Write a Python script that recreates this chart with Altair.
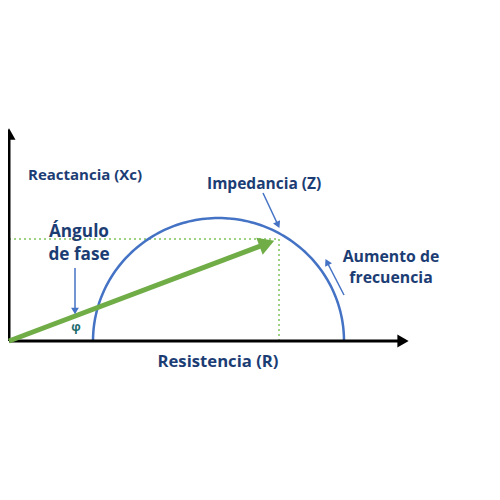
import altair as alt
import pandas as pd
import numpy as np

# ---- data (R = resistance axis, X = reactance axis) ----
axis_x = [0, 393]          # R-axis line
axis_y = [0, 206]          # X-axis line
axis_tips_R = [394, 0]
axis_tips_X = [0, 207]

arc_center_R = 209.5
arc_radius_R = 125.5
arc_radius_X = 123.0

z_R = 270                  # impedance vector tip
z_X = 102

angle_arrow_R = [66, 66]
angle_arrow_X = [73, 30]
imp_arrow_R = [254, 269]
imp_arrow_X = [148, 116]
freq_arrow_R = [335, 318]
freq_arrow_X = [46, 79]

labels = ["Reactancia (Xc)", "Impedancia (Z)", "Ángulo", "de fase",
          "Aumento de", "frecuencia", "Resistencia (R)"]
label_R = [19, 198, 70, 70, 382, 382, 209]
label_X = [166, 157, 109, 86, 84, 63, -21]
label_align = ["left", "left", "center", "center", "center", "center", "center"]
label_size = [15, 15.5, 17.2, 17.2, 15.8, 15.8, 16.7]

BLUE = "#4472c4"
DARK = "#1c3d74"
GREEN = "#70ad47"
LGREEN = "#7dc35a"

xs = alt.Scale(domain=[-1, 483])
ys = alt.Scale(domain=[-151, 333])
X = lambda f: alt.X(f, type="quantitative", scale=xs, axis=None)
Y = lambda f: alt.Y(f, type="quantitative", scale=ys, axis=None)

# axes lines
axes_df = pd.DataFrame({
    "R": [axis_x[0], 0], "R2": [axis_x[1], 0],
    "X": [0, axis_y[0]], "X2": [0, axis_y[1]]})
axes = alt.Chart(axes_df).mark_rule(color="black", strokeWidth=3).encode(
    x=X("R"), x2="R2", y=Y("X"), y2="X2")

tips_df = pd.DataFrame({"R": axis_tips_R, "X": axis_tips_X, "a": [90, 0]})
tips = alt.Chart(tips_df).mark_point(shape="triangle-up", filled=True, color="black",
                                     size=170, opacity=1).encode(
    x=X("R"), y=Y("X"), angle=alt.Angle("a:Q", scale=None))

# semicircle
t = np.linspace(0, np.pi, 121)
arc_df = pd.DataFrame({
    "R": arc_center_R - arc_radius_R * np.cos(t),
    "X": arc_radius_X * np.sin(t),
    "o": np.arange(len(t))})
arc = alt.Chart(arc_df).mark_line(color=BLUE, strokeWidth=2.5).encode(
    x=X("R"), y=Y("X"), order="o:Q")

# dotted projections
dot_df = pd.DataFrame({"R": [0, z_R], "R2": [z_R, z_R], "X": [z_X, 0], "X2": [z_X, z_X]})
dots = alt.Chart(dot_df).mark_rule(color=LGREEN, strokeWidth=1.5, strokeDash=[2, 3]).encode(
    x=X("R"), x2="R2", y=Y("X"), y2="X2")

# green vector
frac = 0.94
vec_df = pd.DataFrame({"R": [0], "X": [0], "R2": [z_R * frac], "X2": [z_X * frac]})
vec = alt.Chart(vec_df).mark_rule(color=GREEN, strokeWidth=5).encode(
    x=X("R"), x2="R2", y=Y("X"), y2="X2")
ang = float(np.degrees(np.arctan2(z_R, z_X)))
vhead_df = pd.DataFrame({"R": [z_R * 0.955], "X": [z_X * 0.955], "a": [ang]})
vhead = alt.Chart(vhead_df).mark_point(shape="triangle-up", filled=True, color=GREEN,
                                       size=330, opacity=1).encode(
    x=X("R"), y=Y("X"), angle=alt.Angle("a:Q", scale=None))

# small blue arrows
def arrow(Rs, Xs):
    df = pd.DataFrame({"R": [Rs[0]], "X": [Xs[0]], "R2": [Rs[1]], "X2": [Xs[1]]})
    line = alt.Chart(df).mark_rule(color=BLUE, strokeWidth=1.5).encode(
        x=X("R"), x2="R2", y=Y("X"), y2="X2")
    a = float(np.degrees(np.arctan2(Rs[1] - Rs[0], Xs[1] - Xs[0]))) % 360
    hd = pd.DataFrame({"R": [Rs[1]], "X": [Xs[1]], "a": [a]})
    head = alt.Chart(hd).mark_point(shape="triangle-up", filled=True, color=BLUE,
                                    size=60, opacity=1).encode(
        x=X("R"), y=Y("X"), angle=alt.Angle("a:Q", scale=None))
    return line + head

a1 = arrow(angle_arrow_R, angle_arrow_X)
a2 = arrow(imp_arrow_R, imp_arrow_X)
a3 = arrow(freq_arrow_R, freq_arrow_X)

# labels
lab_df = pd.DataFrame({"t": labels, "R": label_R, "X": label_X,
                       "al": label_align, "s": label_size})
texts = []
for al in ["left", "center"]:
    for s in sorted(set(label_size)):
        sub = lab_df[(lab_df.al == al) & (lab_df.s == s)]
        if len(sub):
            texts.append(alt.Chart(sub).mark_text(
                align=al, baseline="middle", font="Open Sans", fontWeight="bold",
                fontSize=s, color=DARK).encode(x=X("R"), y=Y("X"), text="t:N"))

phi_df = pd.DataFrame({"t": ["φ"], "R": [67], "X": [14]})
phi = alt.Chart(phi_df).mark_text(font="Open Sans", fontWeight="bold", fontSize=12,
                                  color="#1d6b6b", baseline="middle").encode(
    x=X("R"), y=Y("X"), text="t:N")

chart = alt.layer(dots, arc, axes, tips, vec, vhead, a1, a2, a3, phi, *texts).properties(
    width=484, height=484, padding=0, autosize=alt.AutoSizeParams(type="none")
).configure_view(stroke=None)

chart.save("out.html", embed_options={"renderer": "svg", "actions": False})
